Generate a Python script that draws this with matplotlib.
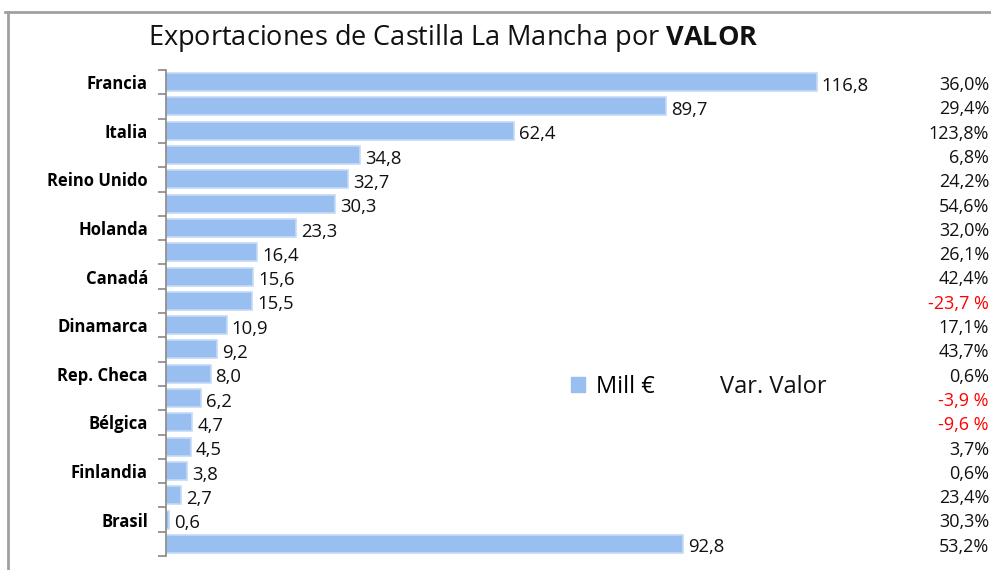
import matplotlib.pyplot as plt
from matplotlib.lines import Line2D
import matplotlib.transforms as mtransforms

plt.rcParams['font.family'] = ['Open Sans', 'DejaVu Sans']
plt.rcParams['mathtext.fontset'] = 'custom'
plt.rcParams['mathtext.rm'] = 'Open Sans'
plt.rcParams['mathtext.bf'] = 'Open Sans:bold'

paises = ['Francia', '', 'Italia', '', 'Reino Unido', '', 'Holanda', '', 'Canadá', '',
          'Dinamarca', '', 'Rep. Checa', '', 'Bélgica', '', 'Finlandia', '', 'Brasil', '']
mill = [116.8, 89.7, 62.4, 34.8, 32.7, 30.3, 23.3, 16.4, 15.6, 15.5,
        10.9, 9.2, 8.0, 6.2, 4.7, 4.5, 3.8, 2.7, 0.6, 92.8]
var_valor = [36.0, 29.4, 123.8, 6.8, 24.2, 54.6, 32.0, 26.1, 42.4, -23.7,
             17.1, 43.7, 0.6, -3.9, -9.6, 3.7, 0.6, 23.4, 30.3, 53.2]

W, H = 991, 570
fig = plt.figure(figsize=(W / 100, H / 100), dpi=100)
ax = fig.add_axes([166 / W, 1 - 556 / H, 780 / W, 486 / H])

barColor = '#99bff0'
pos = list(range(len(mill)))
ax.barh(pos, mill, height=0.74, color=barColor, edgecolor='#c4daf6', linewidth=1.2,
        label='Mill €')
ax.set_ylim(len(mill) - 0.5, -0.5)
ax.set_xlim(0, 140)

for p, v in zip(pos, mill):
    ax.text(v + 0.9, p + 0.15, f'{v:.1f}'.replace('.', ','), va='center', ha='left',
            fontsize=13.3, color='#111111')

# percentages column at right edge
trans = mtransforms.blended_transform_factory(fig.transFigure, ax.transData)
for p, v in zip(pos, var_valor):
    if v < 0:
        txt = f'{v:.1f} %'.replace('.', ',')
        col = '#ff0000'
    else:
        txt = f'{v:.1f}%'.replace('.', ',')
        col = '#111111'
    ax.text(989 / W, p + 0.12, txt, transform=trans, ha='right', va='center',
            fontsize=13, color=col, clip_on=False)

# axes styling
for s in ['top', 'right', 'bottom']:
    ax.spines[s].set_visible(False)
ax.spines['left'].set_color('#888888')
ax.spines['left'].set_linewidth(1.2)
ax.set_xticks([])
ax.set_yticks([i - 0.5 for i in range(len(mill) + 1)])
ax.set_yticklabels([])
ax.tick_params(axis='y', which='major', length=6, color='#888888', width=1.2)
ax.set_yticks(pos, minor=True)
ax.set_yticklabels(paises, minor=True, fontweight='bold', fontsize=12)
ax.tick_params(axis='y', which='minor', length=0, pad=13)

# title
fig.text(0.457, 1 - 38 / H, 'Exportaciones de Castilla La Mancha por $\\mathbf{VALOR}$',
         ha='center', va='center', fontsize=19.5, color='#111111')

# legend
fig.legend(handles=[plt.Rectangle((0, 0), 1, 1, color=barColor)], labels=['Mill €'],
           loc='center left', bbox_to_anchor=(550 / W, 1 - 387 / H), frameon=False,
           fontsize=17, handlelength=0.6, handleheight=0.6, handletextpad=0.45)
fig.text(720 / W, 1 - 387 / H, 'Var. Valor', ha='left', va='center', fontsize=17,
         color='#111111')

# outer frame lines
fig.add_artist(Line2D([5 / W, 1], [1 - 12 / H, 1 - 12 / H], color='#a0a0a0', lw=2,
                      transform=fig.transFigure))
fig.add_artist(Line2D([8 / W, 8 / W], [0, 1 - 12 / H], color='#a0a0a0', lw=2,
                      transform=fig.transFigure))

fig.savefig('out.png', dpi=100)
